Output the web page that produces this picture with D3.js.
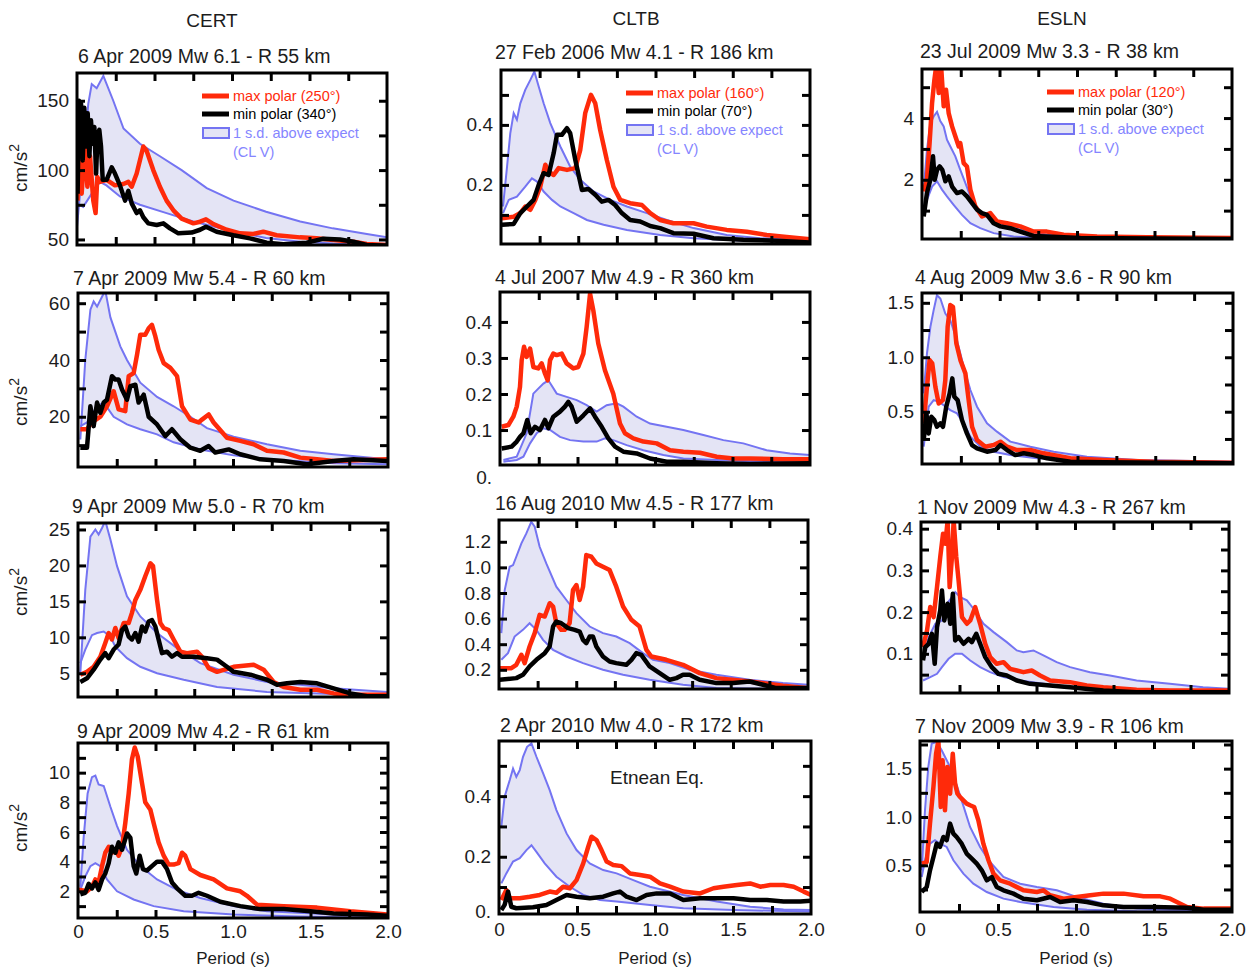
<!DOCTYPE html>
<html><head><meta charset="utf-8">
<script src="https://cdn.jsdelivr.net/npm/d3@7"></script>
<style>body{margin:0;background:#fff} text{font-family:"Liberation Sans",Arial,sans-serif}</style>
</head><body>
<script>
// ---------------- DATA ----------------
const stations = ["CERT", "CLTB", "ESLN"];
const eventTitles = [
  "6 Apr 2009 Mw 6.1 - R 55 km", "7 Apr 2009 Mw 5.4 - R 60 km", "9 Apr 2009 Mw 5.0 - R 70 km", "9 Apr 2009 Mw 4.2 - R 61 km",
  "27 Feb 2006 Mw 4.1 - R 186 km", "4 Jul 2007 Mw 4.9 - R 360 km", "16 Aug 2010 Mw 4.5 - R 177 km", "2 Apr 2010 Mw 4.0 - R 172 km",
  "23 Jul 2009 Mw 3.3 - R 38 km", "4 Aug 2009 Mw 3.6 - R 90 km", "1 Nov 2009 Mw 4.3 - R 267 km", "7 Nov 2009 Mw 3.9 - R 106 km"
];
const legendMax = ["max polar (250°)", "max polar (160°)", "max polar (120°)"];
const legendMin = ["min polar (340°)", "min polar (70°)", "min polar (30°)"];
const legendBand = ["1 s.d. above expect", "(CL V)"];
const xTickLabels = ["0", "0.5", "1.0", "1.5", "2.0"];
const xTickValues = [0, 0.5, 1.0, 1.5, 2.0];
const xMinorTicks = [0.25, 0.5, 0.75, 1.0, 1.25, 1.5, 1.75];
const yLabelValues = [
  [50,100,150],[20,40,60],[5,10,15,20,25],[2,4,6,8,10],
  [0.2,0.4],[0,0.1,0.2,0.3,0.4],[0.2,0.4,0.6,0.8,1.0,1.2],[0,0.2,0.4],
  [2,4],[0.5,1.0,1.5],[0.1,0.2,0.3,0.4],[0.5,1.0,1.5]
];
const yLabelTexts = [
  ["50","100","150"],["20","40","60"],["5","10","15","20","25"],["2","4","6","8","10"],
  ["0.2","0.4"],["0.","0.1","0.2","0.3","0.4"],["0.2","0.4","0.6","0.8","1.0","1.2"],["0.","0.2","0.4"],
  ["2","4"],["0.5","1.0","1.5"],["0.1","0.2","0.3","0.4"],["0.5","1.0","1.5"]
];
const yMinorTicks = [
  [50,75,100,125,150],[10,20,30,40,50,60],[5,10,15,20,25],[1,2,3,4,5,6,7,8,9,10,11],
  [0.1,0.2,0.3,0.4,0.5],[0.1,0.2,0.3,0.4],[0.2,0.4,0.6,0.8,1.0,1.2],[0.1,0.2,0.3,0.4,0.5],
  [1,2,3,4,5],[0.25,0.5,0.75,1.0,1.25,1.5],[0.05,0.1,0.15,0.2,0.25,0.3,0.35,0.4],[0.25,0.5,0.75,1.0,1.25,1.5,1.75]
];
const yDomains = [
  [46,170],[2.3,63.6],[1.7,25.9],[0.2,12],
  [0.003,0.583],[0.003,0.483],[0.05,1.37],[0.011,0.582],
  [0.08,5.59],[0.02,1.59],[0.006,0.416],[0.017,1.786]
];

// CERT row 1
const cert1Hi = [[0,59],[0.073,148],[0.095,162],[0.127,159],[0.17,168],[0.234,150],[0.30,130],[0.406,119],[0.535,110],[0.675,100],[0.837,87],[1.01,78],[1.22,70],[1.44,63],[1.65,58],[1.87,54],[2.0,51.5]];
const cert1Lo = [[0,76],[0.04,73.5],[0.095,83],[0.148,91.5],[0.19,89],[0.277,81],[0.406,75],[0.578,69],[0.75,63],[0.966,57],[1.22,51],[1.44,48.4],[1.65,47],[2.0,46]];
const cert1Red = [[0.004,78],[0.013,133],[0.03,83],[0.052,119],[0.067,88],[0.084,110],[0.105,78],[0.12,69],[0.131,95],[0.148,91.5],[0.191,93],[0.245,89],[0.299,90],[0.331,91.5],[0.353,88],[0.385,97.5],[0.428,117],[0.449,114],[0.492,100],[0.535,88],[0.578,78],[0.622,71],[0.675,65],[0.751,61.6],[0.794,62.8],[0.832,64.5],[0.88,61],[0.966,57],[1.052,54.4],[1.138,54],[1.202,55.6],[1.288,53],[1.439,51.5],[1.546,50.8],[1.654,49.6],[1.783,48.4],[1.869,46.7],[2.0,46]];
const cert1Black = [[0.004,83],[0.013,150],[0.026,148],[0.037,107],[0.047,145],[0.058,117],[0.069,141],[0.08,110],[0.09,136],[0.101,119],[0.112,131],[0.123,97.5],[0.133,126],[0.144,129],[0.155,117],[0.166,93],[0.191,93],[0.224,102],[0.245,97.5],[0.277,89],[0.31,78],[0.331,85],[0.353,76],[0.385,69],[0.406,71],[0.428,66],[0.46,61.6],[0.514,60.4],[0.557,61.6],[0.6,58],[0.654,54.4],[0.74,55],[0.794,57],[0.832,59.2],[0.901,55.6],[1.009,53],[1.116,50.8],[1.224,47.7],[1.331,46.5],[1.482,47.7],[1.589,50.5],[1.697,50],[1.783,48.4],[1.869,46],[2.0,45.5]];
// CERT row 2
const cert2Hi = [[0.015,12],[0.047,40],[0.08,57.7],[0.101,60.6],[0.123,58.8],[0.155,62.3],[0.176,64.5],[0.209,55],[0.273,44.8],[0.316,40],[0.402,32],[0.51,27],[0.617,23.7],[0.725,20],[0.832,16],[1.004,13],[1.219,10.3],[1.434,8],[1.649,6.8],[1.994,5]];
const cert2Lo = [[0.015,16.7],[0.058,18],[0.123,23.7],[0.166,25],[0.23,20],[0.316,17.3],[0.402,15.6],[0.51,13.8],[0.617,11],[0.789,8.5],[1.004,6.4],[1.219,5],[1.649,3.6],[1.994,3.3]];
const cert2Red = [[0.015,15.6],[0.058,15.6],[0.09,18],[0.144,20],[0.187,23.7],[0.23,29],[0.262,22.6],[0.305,22],[0.327,34.3],[0.359,35.4],[0.381,41.9],[0.402,48.9],[0.434,48.9],[0.456,51.2],[0.477,52.4],[0.499,48.3],[0.52,43.6],[0.553,38.9],[0.596,37.2],[0.639,34.3],[0.671,23.7],[0.725,19],[0.778,18],[0.8,19],[0.843,20.8],[0.875,18],[0.961,12.6],[1.047,11.5],[1.133,10.3],[1.219,8],[1.327,7.4],[1.434,5.6],[1.542,5],[1.649,4.4],[1.994,5]];
const cert2Black = [[0.015,9.1],[0.058,9.1],[0.08,23.7],[0.101,16.7],[0.123,25],[0.144,21.4],[0.166,25],[0.187,26],[0.219,34.3],[0.241,33.1],[0.262,33.1],[0.284,29.6],[0.316,26],[0.338,30.8],[0.37,31.3],[0.391,25],[0.424,27.8],[0.456,20],[0.51,17.3],[0.563,13.2],[0.606,15.6],[0.66,12.1],[0.725,9.1],[0.789,8],[0.843,9.7],[0.886,7.4],[0.972,8.5],[1.047,6.8],[1.176,5],[1.327,4.4],[1.477,3.3],[1.649,4.4],[1.778,5],[1.994,4.4]];
// CERT row 3
const cert3Hi = [[0.015,5],[0.047,16.6],[0.08,24],[0.112,25],[0.133,24.3],[0.155,25.2],[0.176,26.2],[0.209,23.6],[0.252,19.9],[0.316,15.7],[0.402,12.9],[0.51,10.6],[0.639,8.5],[0.789,6.4],[1.004,4.8],[1.219,3.8],[1.434,3.4],[1.649,2.9],[1.994,2.4]];
const cert3Lo = [[0.015,6.4],[0.047,8.3],[0.09,10.3],[0.123,10.6],[0.166,10.8],[0.209,10.1],[0.241,8.7],[0.316,7.1],[0.402,5.9],[0.51,5],[0.682,4.1],[0.897,3.1],[1.219,2.4],[1.649,2.1],[1.994,2]];
const cert3Red = [[0.015,4.8],[0.058,5.2],[0.101,5.9],[0.144,7.3],[0.176,9.2],[0.198,10.6],[0.219,9.7],[0.241,11.3],[0.262,9.9],[0.295,12],[0.327,12],[0.348,13.4],[0.37,15.2],[0.402,16.6],[0.434,18.5],[0.467,20.3],[0.484,19.9],[0.51,15.2],[0.531,12],[0.553,11.3],[0.585,11],[0.617,9.7],[0.66,8],[0.703,7.8],[0.768,8],[0.8,7.3],[0.843,5.7],[0.897,5.2],[1.004,5.9],[1.133,6.2],[1.198,5.5],[1.262,3.8],[1.327,3.1],[1.434,2.7],[1.542,2.7],[1.649,2.2],[1.778,2],[1.994,2]];
const cert3Black = [[0.015,3.8],[0.058,4.3],[0.101,5.5],[0.144,6.9],[0.176,7.8],[0.198,7.1],[0.23,8.3],[0.262,9],[0.284,11],[0.305,11.5],[0.327,10.1],[0.348,9.7],[0.37,10.6],[0.391,9.4],[0.413,11.5],[0.434,10.8],[0.456,12.2],[0.477,12.4],[0.499,11.5],[0.52,9.7],[0.542,7.8],[0.574,8],[0.606,7.3],[0.639,7.8],[0.671,7.3],[0.746,7.3],[0.832,7.1],[0.897,6.9],[0.961,5.9],[1.004,5.2],[1.112,4.8],[1.219,4.1],[1.284,3.4],[1.348,3.6],[1.434,3.8],[1.542,3.6],[1.649,2.9],[1.757,2.2],[1.865,1.8],[1.994,1.8]];
// CERT row 4
const cert4Hi = [[0.015,2.3],[0.037,5.7],[0.062,8.6],[0.09,9.7],[0.112,9.8],[0.133,9.2],[0.166,9.1],[0.209,7.7],[0.252,6.4],[0.316,4.8],[0.402,3.7],[0.51,2.8],[0.639,2.1],[0.789,1.55],[1.004,1.0],[1.219,0.65],[1.649,0.43],[1.994,0.3]];
const cert4Lo = [[0.015,2.1],[0.047,3],[0.08,3.7],[0.112,3.9],[0.144,3.7],[0.187,2.8],[0.252,2],[0.359,1.45],[0.488,1],[0.682,0.65],[1.004,0.43],[1.434,0.3],[1.994,0.2]];
const cert4Red = [[0.004,2.1],[0.058,2],[0.09,2.3],[0.112,2.8],[0.133,2.6],[0.155,3.7],[0.176,4.6],[0.198,5],[0.219,4.6],[0.241,4.8],[0.262,4.4],[0.284,5],[0.305,6.6],[0.327,8.6],[0.348,10.9],[0.366,11.7],[0.385,11.1],[0.413,9.3],[0.434,8],[0.467,7.5],[0.488,6.6],[0.52,5.3],[0.553,4.4],[0.585,3.8],[0.617,3.8],[0.649,3.9],[0.671,4.6],[0.692,4.4],[0.725,3.5],[0.789,3.1],[0.875,2.8],[0.961,2.2],[1.047,2],[1.09,1.7],[1.155,1.1],[1.327,1.0],[1.542,0.9],[1.757,0.65],[1.994,0.43]];
const cert4Black = [[0.015,1.8],[0.047,1.9],[0.069,2.5],[0.09,2.2],[0.112,2.6],[0.133,2.1],[0.155,2.8],[0.176,3.2],[0.198,3.9],[0.219,5],[0.241,4.6],[0.262,5.3],[0.284,4.8],[0.316,5.9],[0.338,5.6],[0.359,3.7],[0.376,3.2],[0.398,4.4],[0.419,3.5],[0.445,3.4],[0.477,3.7],[0.51,4],[0.542,4],[0.574,3.5],[0.606,2.6],[0.639,2.2],[0.692,1.7],[0.735,1.7],[0.778,1.9],[0.832,1.7],[0.918,1.3],[1.047,1.0],[1.176,0.8],[1.327,0.8],[1.499,0.65],[1.649,0.5],[1.865,0.43],[1.994,0.36]];
// CLTB row 1
const cltb1Hi = [[0.013,0.128],[0.039,0.26],[0.06,0.372],[0.082,0.439],[0.103,0.417],[0.125,0.472],[0.157,0.517],[0.19,0.55],[0.216,0.578],[0.244,0.528],[0.276,0.472],[0.319,0.406],[0.384,0.328],[0.448,0.261],[0.513,0.217],[0.599,0.178],[0.707,0.15],[0.815,0.128],[0.944,0.106],[1.073,0.083],[1.246,0.056],[1.461,0.033],[1.677,0.022],[2.0,0.017]];
const cltb1Lo = [[0.013,0.106],[0.05,0.15],[0.103,0.161],[0.157,0.194],[0.2,0.222],[0.233,0.211],[0.276,0.178],[0.33,0.15],[0.384,0.128],[0.47,0.106],[0.556,0.083],[0.664,0.067],[0.815,0.05],[1.03,0.033],[1.246,0.022],[1.569,0.014],[2.0,0.011]];
const cltb1Red = [[0.006,0.089],[0.082,0.094],[0.125,0.106],[0.157,0.128],[0.19,0.117],[0.222,0.15],[0.254,0.194],[0.287,0.267],[0.308,0.244],[0.341,0.233],[0.373,0.256],[0.427,0.25],[0.481,0.256],[0.513,0.317],[0.545,0.439],[0.582,0.5],[0.61,0.472],[0.642,0.383],[0.685,0.283],[0.728,0.194],[0.772,0.15],[0.836,0.139],[0.912,0.133],[0.966,0.106],[1.03,0.083],[1.116,0.072],[1.246,0.072],[1.332,0.061],[1.461,0.05],[1.591,0.044],[1.72,0.033],[1.849,0.026],[2.0,0.019]];
const cltb1Black = [[0.006,0.067],[0.082,0.07],[0.125,0.106],[0.168,0.128],[0.211,0.15],[0.244,0.2],[0.276,0.239],[0.308,0.233],[0.341,0.306],[0.362,0.367],[0.394,0.367],[0.427,0.389],[0.448,0.372],[0.481,0.283],[0.524,0.183],[0.567,0.186],[0.61,0.167],[0.653,0.144],[0.696,0.15],[0.739,0.133],[0.782,0.106],[0.836,0.083],[0.901,0.078],[0.966,0.063],[1.03,0.056],[1.116,0.039],[1.246,0.037],[1.375,0.022],[1.569,0.017],[1.784,0.014],[2.0,0.008]];
// CLTB row 2
const cltb2Hi = [[0.022,0.017],[0.108,0.026],[0.172,0.091],[0.215,0.201],[0.247,0.215],[0.28,0.229],[0.312,0.238],[0.366,0.201],[0.43,0.192],[0.495,0.183],[0.559,0.169],[0.624,0.151],[0.688,0.169],[0.753,0.174],[0.796,0.165],[0.882,0.137],[0.968,0.118],[1.075,0.109],[1.183,0.1],[1.312,0.086],[1.441,0.072],[1.57,0.063],[1.72,0.044],[1.871,0.035],[2.0,0.031]];
const cltb2Lo = [[0.022,0.012],[0.108,0.017],[0.151,0.026],[0.194,0.063],[0.237,0.091],[0.28,0.105],[0.323,0.1],[0.387,0.081],[0.452,0.072],[0.538,0.068],[0.624,0.068],[0.677,0.077],[0.731,0.072],[0.817,0.058],[0.925,0.044],[1.054,0.031],[1.183,0.021],[1.398,0.017],[1.72,0.012],[2.0,0.009]];
const cltb2Red = [[0.011,0.109],[0.054,0.114],[0.086,0.137],[0.108,0.165],[0.129,0.22],[0.14,0.294],[0.155,0.331],[0.172,0.303],[0.194,0.326],[0.215,0.275],[0.247,0.271],[0.269,0.285],[0.29,0.257],[0.308,0.238],[0.323,0.294],[0.344,0.312],[0.366,0.308],[0.398,0.312],[0.43,0.285],[0.473,0.271],[0.505,0.275],[0.538,0.312],[0.559,0.386],[0.581,0.478],[0.602,0.432],[0.634,0.34],[0.677,0.266],[0.731,0.201],[0.774,0.118],[0.806,0.091],[0.86,0.077],[0.925,0.068],[1.011,0.063],[1.097,0.044],[1.183,0.04],[1.29,0.037],[1.398,0.026],[1.505,0.021],[1.613,0.021],[1.828,0.019],[2.0,0.019]];
const cltb2Black = [[0.011,0.049],[0.075,0.054],[0.108,0.068],[0.129,0.081],[0.151,0.091],[0.176,0.128],[0.198,0.091],[0.226,0.109],[0.258,0.1],[0.29,0.128],[0.312,0.105],[0.344,0.137],[0.387,0.151],[0.419,0.165],[0.441,0.178],[0.462,0.165],[0.495,0.123],[0.538,0.141],[0.581,0.16],[0.613,0.137],[0.656,0.109],[0.699,0.077],[0.742,0.054],[0.796,0.04],[0.882,0.035],[0.968,0.021],[1.075,0.012],[1.183,0.012],[1.398,0.008],[1.613,0.006],[2.0,0.008]];
// CLTB row 3
const cltb3Hi = [[0.015,0.486],[0.037,0.823],[0.069,1.005],[0.091,1.018],[0.112,1.083],[0.145,1.187],[0.177,1.265],[0.209,1.356],[0.231,1.317],[0.263,1.161],[0.306,1.031],[0.371,0.849],[0.436,0.745],[0.501,0.642],[0.587,0.538],[0.673,0.486],[0.759,0.46],[0.846,0.408],[0.932,0.33],[0.997,0.278],[1.105,0.252],[1.234,0.2],[1.407,0.161],[1.622,0.122],[1.838,0.096],[2.0,0.083]];
const cltb3Lo = [[0.015,0.278],[0.058,0.33],[0.101,0.46],[0.155,0.512],[0.198,0.564],[0.242,0.512],[0.285,0.434],[0.35,0.356],[0.436,0.304],[0.544,0.252],[0.673,0.2],[0.803,0.161],[0.975,0.122],[1.191,0.083],[1.407,0.057],[1.838,0.05],[2.0,0.05]];
const cltb3Red = [[0.004,0.213],[0.08,0.213],[0.112,0.239],[0.145,0.317],[0.166,0.252],[0.198,0.382],[0.231,0.486],[0.263,0.629],[0.296,0.616],[0.328,0.72],[0.35,0.694],[0.371,0.564],[0.403,0.512],[0.425,0.512],[0.457,0.564],[0.479,0.823],[0.501,0.862],[0.522,0.745],[0.544,0.849],[0.565,1.096],[0.598,1.083],[0.63,1.031],[0.673,1.005],[0.716,0.979],[0.759,0.849],[0.803,0.694],[0.857,0.59],[0.91,0.538],[0.954,0.356],[0.986,0.304],[1.083,0.278],[1.191,0.239],[1.299,0.174],[1.407,0.135],[1.622,0.109],[1.838,0.075],[1.989,0.057]];
const cltb3Black = [[0.004,0.122],[0.112,0.135],[0.155,0.161],[0.198,0.226],[0.242,0.278],[0.296,0.33],[0.328,0.382],[0.35,0.538],[0.371,0.577],[0.403,0.564],[0.447,0.525],[0.49,0.512],[0.522,0.499],[0.544,0.434],[0.565,0.408],[0.587,0.46],[0.608,0.46],[0.63,0.382],[0.673,0.304],[0.716,0.265],[0.759,0.252],[0.824,0.239],[0.857,0.278],[0.889,0.33],[0.921,0.317],[0.975,0.226],[1.04,0.174],[1.105,0.122],[1.148,0.135],[1.191,0.161],[1.234,0.161],[1.299,0.122],[1.407,0.096],[1.515,0.096],[1.622,0.109],[1.709,0.083],[1.795,0.057],[2.0,0.057]];
// CLTB row 4
const cltb4Hi = [[0.015,0.299],[0.036,0.398],[0.069,0.453],[0.09,0.491],[0.111,0.464],[0.133,0.486],[0.154,0.53],[0.18,0.563],[0.208,0.574],[0.24,0.53],[0.283,0.475],[0.325,0.42],[0.368,0.354],[0.433,0.277],[0.497,0.222],[0.582,0.178],[0.668,0.156],[0.754,0.145],[0.861,0.123],[0.968,0.101],[1.182,0.074],[1.396,0.052],[1.61,0.035],[1.824,0.026],[2.0,0.024]];
const cltb4Lo = [[0.015,0.112],[0.047,0.145],[0.09,0.184],[0.133,0.195],[0.176,0.222],[0.208,0.238],[0.24,0.216],[0.293,0.178],[0.368,0.134],[0.454,0.101],[0.54,0.074],[0.647,0.057],[0.754,0.052],[0.968,0.041],[1.182,0.03],[1.503,0.024],[2.0,0.019]];
const cltb4Red = [[0.015,0.057],[0.047,0.09],[0.069,0.063],[0.133,0.063],[0.197,0.068],[0.261,0.074],[0.325,0.085],[0.368,0.081],[0.411,0.101],[0.454,0.096],[0.497,0.123],[0.54,0.178],[0.572,0.233],[0.593,0.266],[0.625,0.255],[0.657,0.222],[0.69,0.184],[0.732,0.173],[0.786,0.169],[0.839,0.145],[0.904,0.14],[0.968,0.134],[1.032,0.112],[1.096,0.101],[1.182,0.085],[1.289,0.079],[1.375,0.096],[1.439,0.101],[1.525,0.107],[1.61,0.112],[1.675,0.101],[1.739,0.107],[1.824,0.107],[1.889,0.101],[1.953,0.085],[2.0,0.074]];
const cltb4Black = [[0.015,0.024],[0.036,0.041],[0.058,0.085],[0.079,0.035],[0.111,0.03],[0.218,0.033],[0.304,0.041],[0.368,0.057],[0.433,0.074],[0.497,0.068],[0.582,0.063],[0.668,0.068],[0.732,0.079],[0.775,0.085],[0.818,0.068],[0.882,0.057],[0.946,0.074],[1.011,0.079],[1.096,0.079],[1.182,0.057],[1.289,0.063],[1.396,0.063],[1.503,0.063],[1.61,0.057],[1.717,0.057],[1.824,0.052],[1.931,0.052],[2.0,0.055]];
// ESLN row 1
const esln1Hi = [[0.011,1.68],[0.032,2.97],[0.054,3.84],[0.075,4.05],[0.097,4.2],[0.118,3.9],[0.14,3.73],[0.161,3.3],[0.183,3.08],[0.215,2.76],[0.247,2.32],[0.28,1.89],[0.312,1.46],[0.355,1.08],[0.419,0.81],[0.505,0.59],[0.591,0.43],[0.699,0.32],[0.806,0.22],[1.022,0.14],[1.452,0.11],[2.0,0.08]];
const esln1Lo = [[0.011,1.03],[0.032,1.35],[0.065,1.78],[0.097,1.95],[0.129,1.68],[0.161,1.46],[0.204,1.19],[0.258,0.86],[0.312,0.59],[0.376,0.43],[0.462,0.27],[0.591,0.16],[0.806,0.11],[2.0,0.08]];
const esln1Red = [[0.011,1.62],[0.032,2.0],[0.049,3.19],[0.065,4.49],[0.08,5.24],[0.092,5.7],[0.108,4.81],[0.123,5.7],[0.14,4.38],[0.155,4.92],[0.172,4.16],[0.194,3.73],[0.215,3.41],[0.237,3.08],[0.247,3.19],[0.269,2.54],[0.29,2.43],[0.312,1.68],[0.344,1.14],[0.387,0.81],[0.441,0.92],[0.484,0.65],[0.548,0.59],[0.634,0.49],[0.72,0.32],[0.806,0.32],[0.914,0.22],[1.129,0.16],[1.452,0.14],[2.0,0.11]];
const esln1Black = [[0.011,0.81],[0.032,1.57],[0.054,2.0],[0.071,2.76],[0.082,2.0],[0.097,2.32],[0.114,2.43],[0.131,2.32],[0.151,1.95],[0.172,2.11],[0.194,1.78],[0.226,1.57],[0.258,1.62],[0.29,1.46],[0.323,1.24],[0.355,1.03],[0.387,0.92],[0.419,0.86],[0.462,0.59],[0.505,0.49],[0.57,0.43],[0.634,0.32],[0.72,0.18],[0.806,0.16],[1.022,0.11],[2.0,0.08]];
// ESLN row 2
const esln2Hi = [[0.011,0.668],[0.032,1.035],[0.054,1.28],[0.075,1.433],[0.096,1.57],[0.118,1.54],[0.15,1.402],[0.182,1.341],[0.225,1.157],[0.268,0.913],[0.311,0.699],[0.354,0.546],[0.418,0.393],[0.482,0.317],[0.568,0.225],[0.697,0.179],[0.847,0.133],[1.061,0.087],[1.383,0.057],[2.0,0.041]];
const esln2Lo = [[0.011,0.179],[0.043,0.546],[0.075,0.607],[0.107,0.592],[0.139,0.561],[0.182,0.515],[0.225,0.485],[0.268,0.393],[0.311,0.271],[0.375,0.179],[0.461,0.133],[0.568,0.102],[0.74,0.072],[1.061,0.057],[1.383,0.041],[2.0,0.032]];
const esln2Red = [[0.011,0.393],[0.032,0.729],[0.049,0.974],[0.066,0.943],[0.086,0.729],[0.107,0.576],[0.135,0.607],[0.15,0.79],[0.165,1.28],[0.182,1.479],[0.199,1.463],[0.221,1.127],[0.247,0.974],[0.279,0.852],[0.3,0.607],[0.322,0.362],[0.354,0.24],[0.407,0.179],[0.461,0.194],[0.504,0.225],[0.547,0.179],[0.611,0.148],[0.697,0.148],[0.782,0.118],[0.954,0.072],[1.168,0.057],[1.49,0.041],[2.0,0.032]];
const esln2Black = [[0.011,0.24],[0.028,0.485],[0.043,0.301],[0.06,0.454],[0.079,0.424],[0.096,0.362],[0.118,0.393],[0.135,0.362],[0.156,0.546],[0.178,0.668],[0.195,0.806],[0.208,0.638],[0.229,0.607],[0.257,0.424],[0.289,0.301],[0.322,0.194],[0.354,0.164],[0.418,0.133],[0.472,0.148],[0.504,0.194],[0.547,0.148],[0.6,0.102],[0.654,0.118],[0.718,0.102],[0.804,0.072],[0.954,0.041],[1.168,0.035],[2.0,0.026]];
// ESLN row 3
const esln3Hi = [[0.013,0.092],[0.05,0.14],[0.093,0.172],[0.136,0.18],[0.168,0.22],[0.201,0.236],[0.222,0.248],[0.255,0.236],[0.298,0.228],[0.341,0.208],[0.406,0.172],[0.471,0.152],[0.557,0.128],[0.622,0.108],[0.665,0.104],[0.73,0.108],[0.795,0.096],[0.881,0.08],[0.968,0.068],[1.097,0.056],[1.227,0.048],[1.4,0.036],[1.616,0.028],[1.832,0.02],[2.0,0.016]];
const esln3Lo = [[0.013,0.036],[0.06,0.044],[0.104,0.052],[0.136,0.068],[0.179,0.088],[0.222,0.1],[0.266,0.1],[0.32,0.084],[0.384,0.068],[0.449,0.056],[0.536,0.044],[0.644,0.036],[0.795,0.028],[0.968,0.02],[1.184,0.014],[1.508,0.01],[2.0,0.008]];
const esln3Red = [[0.013,0.116],[0.039,0.156],[0.06,0.212],[0.082,0.188],[0.104,0.26],[0.125,0.332],[0.143,0.388],[0.158,0.364],[0.173,0.42],[0.186,0.26],[0.201,0.332],[0.212,0.42],[0.229,0.332],[0.244,0.276],[0.266,0.188],[0.298,0.172],[0.32,0.18],[0.352,0.212],[0.384,0.172],[0.417,0.124],[0.449,0.092],[0.492,0.076],[0.536,0.08],[0.579,0.064],[0.622,0.06],[0.665,0.056],[0.719,0.06],[0.773,0.048],[0.838,0.036],[0.968,0.032],[1.076,0.024],[1.184,0.02],[1.4,0.014],[1.616,0.012],[2.0,0.012]];
const esln3Black = [[0.013,0.084],[0.028,0.116],[0.05,0.124],[0.071,0.148],[0.089,0.076],[0.104,0.164],[0.125,0.204],[0.136,0.252],[0.151,0.18],[0.173,0.22],[0.19,0.172],[0.207,0.244],[0.222,0.132],[0.244,0.14],[0.276,0.124],[0.309,0.136],[0.33,0.128],[0.359,0.148],[0.384,0.124],[0.417,0.092],[0.46,0.068],[0.503,0.052],[0.557,0.048],[0.622,0.036],[0.708,0.028],[0.838,0.024],[0.968,0.02],[1.184,0.012],[1.4,0.008],[2.0,0.008]];
// ESLN row 4
const esln4Hi = [[0.011,0.448],[0.032,1.069],[0.053,1.517],[0.075,1.759],[0.107,1.776],[0.139,1.69],[0.182,1.552],[0.225,1.379],[0.267,1.172],[0.321,0.897],[0.385,0.69],[0.449,0.534],[0.535,0.379],[0.642,0.31],[0.749,0.276],[0.877,0.241],[1.005,0.172],[1.176,0.103],[1.39,0.052],[1.604,0.041],[2.0,0.034]];
const esln4Lo = [[0.011,0.379],[0.032,0.552],[0.064,0.724],[0.096,0.759],[0.128,0.724],[0.171,0.69],[0.214,0.552],[0.278,0.414],[0.342,0.31],[0.428,0.224],[0.535,0.155],[0.642,0.121],[0.856,0.069],[1.07,0.041],[1.39,0.024],[2.0,0.017]];
const esln4Red = [[0.011,0.517],[0.043,0.534],[0.064,0.931],[0.086,1.31],[0.103,1.655],[0.118,1.79],[0.133,1.103],[0.145,1.586],[0.16,1.069],[0.175,1.517],[0.193,1.241],[0.21,1.655],[0.225,1.345],[0.24,1.241],[0.257,1.207],[0.278,1.172],[0.299,1.138],[0.321,1.121],[0.347,1.103],[0.374,0.966],[0.406,0.724],[0.439,0.552],[0.471,0.414],[0.513,0.345],[0.578,0.31],[0.663,0.241],[0.749,0.224],[0.791,0.241],[0.834,0.19],[0.92,0.155],[1.005,0.172],[1.091,0.19],[1.176,0.207],[1.305,0.207],[1.433,0.179],[1.54,0.179],[1.604,0.155],[1.711,0.069],[1.818,0.052],[2.0,0.052]];
const esln4Black = [[0.011,0.224],[0.043,0.276],[0.064,0.448],[0.086,0.586],[0.107,0.724],[0.128,0.69],[0.15,0.793],[0.171,0.759],[0.193,0.931],[0.214,0.828],[0.235,0.793],[0.267,0.724],[0.299,0.621],[0.332,0.569],[0.364,0.517],[0.396,0.448],[0.428,0.345],[0.46,0.379],[0.492,0.276],[0.535,0.241],[0.599,0.207],[0.663,0.155],[0.749,0.138],[0.834,0.172],[0.898,0.121],[0.984,0.138],[1.07,0.121],[1.176,0.086],[1.305,0.069],[1.497,0.069],[1.711,0.062],[1.818,0.041],[2.0,0.041]];

// ---------------- LAYOUT ----------------
const bandHiAll = [cert1Hi,cert2Hi,cert3Hi,cert4Hi,cltb1Hi,cltb2Hi,cltb3Hi,cltb4Hi,esln1Hi,esln2Hi,esln3Hi,esln4Hi];
const bandLoAll = [cert1Lo,cert2Lo,cert3Lo,cert4Lo,cltb1Lo,cltb2Lo,cltb3Lo,cltb4Lo,esln1Lo,esln2Lo,esln3Lo,esln4Lo];
const redAll = [cert1Red,cert2Red,cert3Red,cert4Red,cltb1Red,cltb2Red,cltb3Red,cltb4Red,esln1Red,esln2Red,esln3Red,esln4Red];
const blackAll = [cert1Black,cert2Black,cert3Black,cert4Black,cltb1Black,cltb2Black,cltb3Black,cltb4Black,esln1Black,esln2Black,esln3Black,esln4Black];

const boxes = [
  [77,387,73,245],[78,388,293,467],[78,388,523,697],[78,388,743,918],
  [501,810,70,244],[500,810,292,465],[499,808,520,689],[499,811,741,914],
  [922,1232,69,239],[922,1233,293,464],[921,1229,522,693],[920,1232,741,912]
];
const titlePos = [
  [78,63],[73,285],[72,513],[77,738],
  [495,59],[495,284],[495,510],[500,732],
  [920,58],[915,284],[917,514],[915,733]
];
const zeroShift = [0,0,0,0, 0,11,0,-6, 0,0,0,0];
const headerPos = [[212,27],[636,25],[1062,25]];
const cmY = [168,402,592,828];
const xLabelPad = [7,9,11];

const RED = "#ff2a0a", BLUE = "#7474f2", FILL = "#e4e4f5", TXT = "#1c1c1c";

const svg = d3.select("body").append("svg").attr("width",1250).attr("height",968);

// column headers
stations.forEach((s,c)=>{
  svg.append("text").attr("x",headerPos[c][0]).attr("y",headerPos[c][1])
    .attr("text-anchor","middle").attr("font-size",19).attr("fill",TXT).text(s);
});

// y-axis unit labels
cmY.forEach(cy=>{
  const t = svg.append("text").attr("transform",`translate(27,${cy}) rotate(-90)`)
    .attr("text-anchor","middle").attr("font-size",19).attr("fill",TXT);
  t.append("tspan").text("cm/s");
  t.append("tspan").attr("font-size",14).attr("dy",-8).text("2");
});

const line = d3.line();

for (let i=0;i<12;i++){
  const col = Math.floor(i/4), row = i%4;
  const [x0,x1,y0,y1] = boxes[i];
  const x = d3.scaleLinear().domain([0,2]).range([x0,x1]);
  const y = d3.scaleLinear().domain(yDomains[i]).range([y1,y0]);
  line.x(d=>x(d[0])).y(d=>y(d[1]));

  const cid = "clip"+i;
  svg.append("clipPath").attr("id",cid).append("rect")
    .attr("x",x0).attr("y",y0).attr("width",x1-x0).attr("height",y1-y0);
  const g = svg.append("g").attr("clip-path",`url(#${cid})`);

  // band
  const poly = bandHiAll[i].concat(bandLoAll[i].slice().reverse());
  g.append("path").attr("d",line(poly)+"Z").attr("fill",FILL).attr("stroke","none");
  g.append("path").attr("d",line(bandHiAll[i])).attr("fill","none").attr("stroke",BLUE).attr("stroke-width",2);
  g.append("path").attr("d",line(bandLoAll[i])).attr("fill","none").attr("stroke",BLUE).attr("stroke-width",2);
  // red and black
  g.append("path").attr("d",line(redAll[i])).attr("fill","none").attr("stroke",RED)
    .attr("stroke-width",4.5).attr("stroke-linejoin","round");
  g.append("path").attr("d",line(blackAll[i])).attr("fill","none").attr("stroke","#000")
    .attr("stroke-width",4.5).attr("stroke-linejoin","round");

  // ticks (inward) via axes
  const tk = (ax)=>ax.tickSizeOuter(0).tickFormat("");
  const ya = svg.append("g").attr("transform",`translate(${x0},0)`)
    .call(tk(d3.axisLeft(y).tickValues(yMinorTicks[i]).tickSizeInner(-8)));
  const yb = svg.append("g").attr("transform",`translate(${x1},0)`)
    .call(tk(d3.axisRight(y).tickValues(yMinorTicks[i]).tickSizeInner(-8)));
  const xa = svg.append("g").attr("transform",`translate(0,${y1})`)
    .call(tk(d3.axisBottom(x).tickValues(xMinorTicks).tickSizeInner(-8)));
  const xb = svg.append("g").attr("transform",`translate(0,${y0})`)
    .call(tk(d3.axisTop(x).tickValues(xMinorTicks).tickSizeInner(-8)));
  [ya,yb,xa,xb].forEach(a=>{
    a.select(".domain").remove();
    a.selectAll("line").attr("stroke","#000").attr("stroke-width",3);
  });

  // y labels
  const labels = yLabelValues[i], texts = yLabelTexts[i];
  const yl = svg.append("g").attr("transform",`translate(${x0},0)`)
    .call(d3.axisLeft(y).tickValues(labels).tickSize(0).tickPadding(8)
      .tickFormat((d,k)=>texts[k]));
  yl.select(".domain").remove();
  yl.selectAll("text").attr("font-size",19).attr("fill",TXT)
    .attr("font-family",'"Liberation Sans",Arial,sans-serif')
    .attr("transform",d=> d===0 ? `translate(0,${zeroShift[i]})` : null);

  // x labels on bottom row
  if (row===3){
    const xl = svg.append("g").attr("transform",`translate(0,${y1})`)
      .call(d3.axisBottom(x).tickValues(xTickValues).tickSize(0).tickPadding(xLabelPad[col])
        .tickFormat((d,k)=>xTickLabels[k]));
    xl.select(".domain").remove();
    xl.selectAll("text").attr("font-size",19).attr("fill",TXT)
      .attr("font-family",'"Liberation Sans",Arial,sans-serif');
    svg.append("text").attr("x",(x0+x1)/2).attr("y",964).attr("text-anchor","middle")
      .attr("font-size",17).attr("fill",TXT).text("Period (s)");
  }

  // frame
  svg.append("rect").attr("x",x0).attr("y",y0).attr("width",x1-x0).attr("height",y1-y0)
    .attr("fill","none").attr("stroke","#000").attr("stroke-width",3);

  // title
  svg.append("text").attr("x",titlePos[i][0]).attr("y",titlePos[i][1])
    .attr("font-size",19.5).attr("fill",TXT).text(eventTitles[i]);

  // legend on top row
  if (row===0){
    const lx = x0+125, ly = y0+23;
    const lg = svg.append("g");
    lg.append("line").attr("x1",lx).attr("x2",lx+27).attr("y1",ly).attr("y2",ly)
      .attr("stroke",RED).attr("stroke-width",5);
    lg.append("text").attr("x",lx+31).attr("y",ly+5).attr("font-size",14.5).attr("fill",RED).text(legendMax[col]);
    lg.append("line").attr("x1",lx).attr("x2",lx+27).attr("y1",ly+18).attr("y2",ly+18)
      .attr("stroke","#000").attr("stroke-width",5);
    lg.append("text").attr("x",lx+31).attr("y",ly+23).attr("font-size",14.5).attr("fill","#000").text(legendMin[col]);
    lg.append("rect").attr("x",lx+1).attr("y",ly+32).attr("width",26).attr("height",10)
      .attr("fill",FILL).attr("stroke",BLUE).attr("stroke-width",2);
    lg.append("text").attr("x",lx+31).attr("y",ly+42).attr("font-size",14.5).attr("fill","#8585ff").text(legendBand[0]);
    lg.append("text").attr("x",lx+31).attr("y",ly+61).attr("font-size",14.5).attr("fill","#8585ff").text(legendBand[1]);
  }
}

// annotation
svg.append("text").attr("x",610).attr("y",784).attr("font-size",19).attr("fill",TXT).text("Etnean Eq.");
</script>
</body></html>
